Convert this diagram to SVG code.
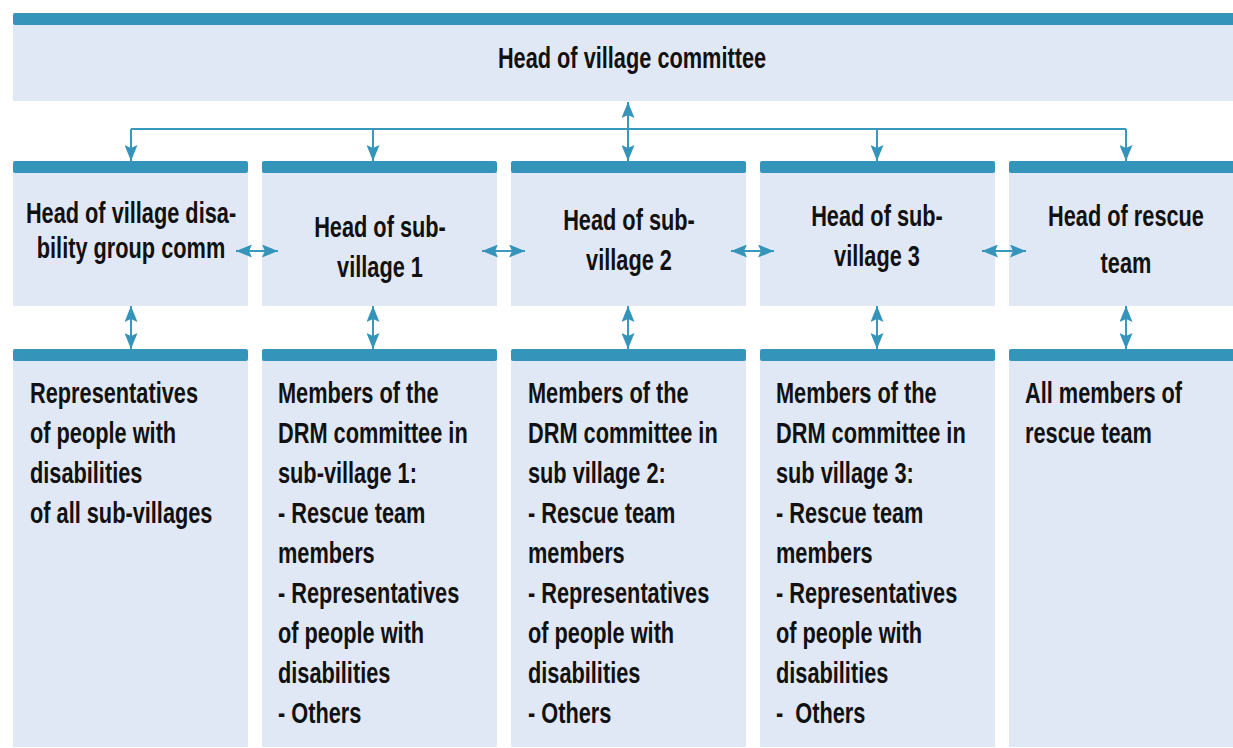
<svg xmlns="http://www.w3.org/2000/svg" width="1233" height="748" viewBox="0 0 1233 748">
<style>
.body{fill:#e1e8f5}
.bar{fill:#3494b9}
.t{font-family:"Liberation Sans",Arial,sans-serif;font-weight:bold;font-size:29px;fill:#111}
.c{text-anchor:middle}
.conn{stroke:#3a97bd;stroke-width:2;fill:none}
</style>
<defs>
<marker id="ah" markerUnits="userSpaceOnUse" markerWidth="16" markerHeight="13" refX="16" refY="6.5" orient="auto-start-reverse" viewBox="0 0 16 13">
<path d="M0,0 L16,6.5 L0,13 L3,6.5 Z" fill="#3494b9"/>
</marker>
</defs>

<g id="node-top">
<rect class="body" x="13" y="24" width="1220" height="77"/>
<rect class="bar" x="13" y="13" width="1225" height="12" rx="2"/>
<g transform="translate(632,0) scale(0.75,1)"><text class="t c" x="0" y="68">Head of village committee</text></g>
</g>

<g id="node-h1">
<rect class="body" x="13" y="172" width="235" height="134"/>
<rect class="bar" x="13" y="161" width="235" height="12" rx="2"/>
<g transform="translate(131,0) scale(0.75,1)"><text class="t c" x="0" y="223">Head of village disa-</text><text class="t c" x="0" y="258">bility group comm</text></g>
</g>
<g id="node-h2">
<rect class="body" x="262" y="172" width="235" height="134"/>
<rect class="bar" x="262" y="161" width="235" height="12" rx="2"/>
<g transform="translate(380,0) scale(0.75,1)"><text class="t c" x="0" y="237">Head of sub-</text><text class="t c" x="0" y="277">village 1</text></g>
</g>
<g id="node-h3">
<rect class="body" x="511" y="172" width="235" height="134"/>
<rect class="bar" x="511" y="161" width="235" height="12" rx="2"/>
<g transform="translate(629,0) scale(0.75,1)"><text class="t c" x="0" y="230">Head of sub-</text><text class="t c" x="0" y="270">village 2</text></g>
</g>
<g id="node-h4">
<rect class="body" x="760" y="172" width="235" height="134"/>
<rect class="bar" x="760" y="161" width="235" height="12" rx="2"/>
<g transform="translate(877,0) scale(0.75,1)"><text class="t c" x="0" y="226">Head of sub-</text><text class="t c" x="0" y="266">village 3</text></g>
</g>
<g id="node-h5">
<rect class="body" x="1009" y="172" width="235" height="134"/>
<rect class="bar" x="1009" y="161" width="235" height="12" rx="2"/>
<g transform="translate(1126,0) scale(0.75,1)"><text class="t c" x="0" y="226">Head of rescue</text><text class="t c" x="0" y="273">team</text></g>
</g>

<g id="node-m1">
<rect class="body" x="13" y="360" width="235" height="387"/>
<rect class="bar" x="13" y="349" width="235" height="12" rx="2"/>
<g transform="translate(30,0) scale(0.75,1)">
<text class="t" x="0" y="403">Representatives</text>
<text class="t" x="0" y="443">of people with</text>
<text class="t" x="0" y="483">disabilities</text>
<text class="t" x="0" y="523">of all sub-villages</text>
</g>
</g>
<g id="node-m2">
<rect class="body" x="262" y="360" width="235" height="387"/>
<rect class="bar" x="262" y="349" width="235" height="12" rx="2"/>
<g transform="translate(278,0) scale(0.75,1)">
<text class="t" x="0" y="403">Members of the</text>
<text class="t" x="0" y="443">DRM committee in</text>
<text class="t" x="0" y="483">sub-village 1:</text>
<text class="t" x="0" y="523">- Rescue team</text>
<text class="t" x="0" y="563">members</text>
<text class="t" x="0" y="603">- Representatives</text>
<text class="t" x="0" y="643">of people with</text>
<text class="t" x="0" y="683">disabilities</text>
<text class="t" x="0" y="723">- Others</text>
</g>
</g>
<g id="node-m3">
<rect class="body" x="511" y="360" width="235" height="387"/>
<rect class="bar" x="511" y="349" width="235" height="12" rx="2"/>
<g transform="translate(528,0) scale(0.75,1)">
<text class="t" x="0" y="403">Members of the</text>
<text class="t" x="0" y="443">DRM committee in</text>
<text class="t" x="0" y="483">sub village 2:</text>
<text class="t" x="0" y="523">- Rescue team</text>
<text class="t" x="0" y="563">members</text>
<text class="t" x="0" y="603">- Representatives</text>
<text class="t" x="0" y="643">of people with</text>
<text class="t" x="0" y="683">disabilities</text>
<text class="t" x="0" y="723">- Others</text>
</g>
</g>
<g id="node-m4">
<rect class="body" x="760" y="360" width="235" height="387"/>
<rect class="bar" x="760" y="349" width="235" height="12" rx="2"/>
<g transform="translate(776,0) scale(0.75,1)">
<text class="t" x="0" y="403">Members of the</text>
<text class="t" x="0" y="443">DRM committee in</text>
<text class="t" x="0" y="483">sub village 3:</text>
<text class="t" x="0" y="523">- Rescue team</text>
<text class="t" x="0" y="563">members</text>
<text class="t" x="0" y="603">- Representatives</text>
<text class="t" x="0" y="643">of people with</text>
<text class="t" x="0" y="683">disabilities</text>
<text class="t" x="0" y="723" xml:space="preserve">-  Others</text>
</g>
</g>
<g id="node-m5">
<rect class="body" x="1009" y="360" width="235" height="387"/>
<rect class="bar" x="1009" y="349" width="235" height="12" rx="2"/>
<g transform="translate(1025,0) scale(0.75,1)">
<text class="t" x="0" y="403">All members of</text>
<text class="t" x="0" y="443">rescue team</text>
</g>
</g>

<g id="connectors" class="conn">
<path d="M131,129 H1126"/>
<path d="M131,129 V161" marker-end="url(#ah)"/>
<path d="M373,129 V161" marker-end="url(#ah)"/>
<path d="M877,129 V161" marker-end="url(#ah)"/>
<path d="M1126,129 V161" marker-end="url(#ah)"/>
<path d="M628,102 V161" marker-start="url(#ah)" marker-end="url(#ah)"/>
<path d="M236,251 H278" marker-start="url(#ah)" marker-end="url(#ah)"/>
<path d="M482,251 H525" marker-start="url(#ah)" marker-end="url(#ah)"/>
<path d="M731,251 H774" marker-start="url(#ah)" marker-end="url(#ah)"/>
<path d="M982,251 H1026" marker-start="url(#ah)" marker-end="url(#ah)"/>
<path d="M131,306 V349" marker-start="url(#ah)" marker-end="url(#ah)"/>
<path d="M373,306 V349" marker-start="url(#ah)" marker-end="url(#ah)"/>
<path d="M628,306 V349" marker-start="url(#ah)" marker-end="url(#ah)"/>
<path d="M877,306 V349" marker-start="url(#ah)" marker-end="url(#ah)"/>
<path d="M1126,306 V349" marker-start="url(#ah)" marker-end="url(#ah)"/>
</g>
</svg>
